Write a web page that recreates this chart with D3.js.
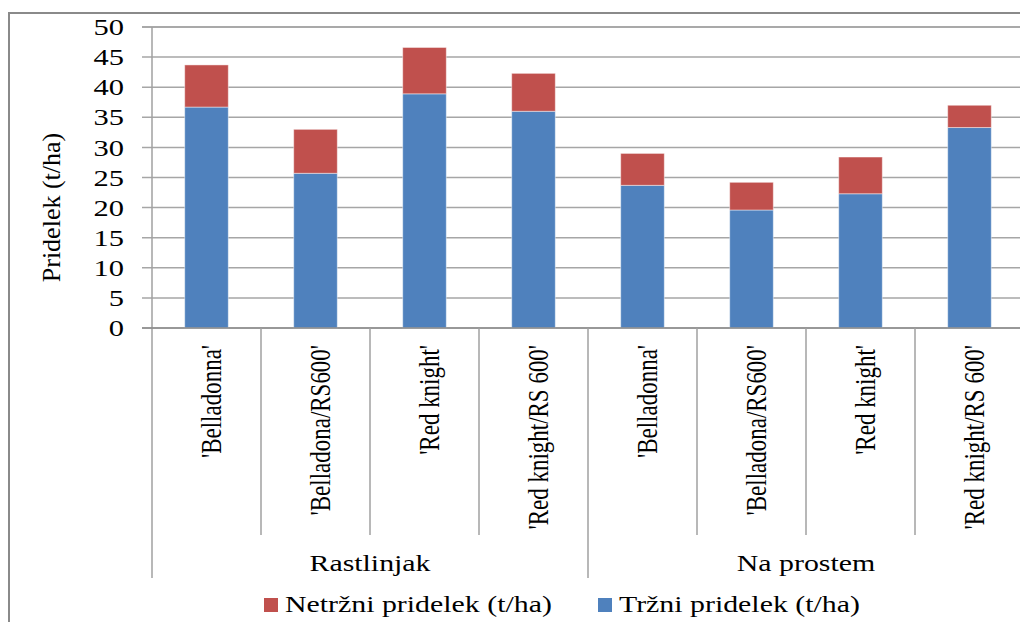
<!DOCTYPE html>
<html>
<head>
<meta charset="utf-8">
<script src="https://cdn.jsdelivr.net/npm/d3@7"></script>
<style>
  body { margin: 0; background: #fff; }
  text { font-family: "Liberation Serif", "Times New Roman", serif; fill: #000; }
</style>
</head>
<body>
<div id="chart"></div>
<script>
// Data
var groups = ["Rastlinjak", "Na prostem"];
var cultivars = ["'Belladonna'", "'Belladona/RS600'", "'Red knight'", "'Red knight/RS 600'"];
var trzni = [36.7, 25.7, 38.9, 36.0, 23.7, 19.6, 22.3, 33.3];
var netrzni = [7.0, 7.3, 7.7, 6.3, 5.3, 4.6, 6.1, 3.7];
var yTicks = [0, 5, 10, 15, 20, 25, 30, 35, 40, 45, 50];
var seriesNames = ["Netržni pridelek (t/ha)", "Tržni pridelek (t/ha)"];
var colors = { trzni: "#4f81bd", netrzni: "#c0504d" };

var svgWidth = 1020;
var svgHeight = 622;
var sx = 1.27; // the reference text is a little wider than it is tall

var plot = { left: 152, right: 1024, top: 27, bottom: 328 };

var svg = d3.select("#chart")
    .append("svg")
    .attr("width", svgWidth)
    .attr("height", svgHeight);

// outer frame (right and bottom edges fall outside the picture)
svg.append("rect")
    .attr("x", 9)
    .attr("y", 13)
    .attr("width", 1200)
    .attr("height", 800)
    .attr("fill", "none")
    .attr("stroke", "#8a8a8a")
    .attr("stroke-width", 2);

// one entry per bar
var keys = [];
groups.forEach(function(g) {
    cultivars.forEach(function(c) { keys.push(g + "|" + c); });
});
var rows = keys.map(function(k, i) {
    return { key: k, group: k.split("|")[0], name: k.split("|")[1], trzni: trzni[i], netrzni: netrzni[i] };
});

var x = d3.scaleBand()
    .domain(keys)
    .range([plot.left, plot.right])
    .paddingInner(0.6)
    .paddingOuter(0.3);

var cell = d3.scaleBand()
    .domain(keys)
    .range([plot.left, plot.right]);

var y = d3.scaleLinear()
    .domain([0, 50])
    .range([plot.bottom, plot.top]);

// gridlines
svg.append("g")
    .selectAll("line")
    .data(yTicks)
    .enter()
    .append("line")
    .attr("x1", plot.left - 10)
    .attr("x2", svgWidth)
    .attr("y1", d => y(d))
    .attr("y2", d => y(d))
    .attr("stroke", d => d === 50 ? "#8c8c8c" : "#a6a6a6")
    .attr("stroke-width", 1.5);

// y tick labels
svg.append("g")
    .selectAll("text")
    .data(yTicks)
    .enter()
    .append("text")
    .attr("transform", d => `translate(124, ${y(d)}) scale(${sx}, 1)`)
    .attr("text-anchor", "end")
    .attr("dy", "0.34em")
    .attr("font-size", "24px")
    .text(d => d);

// y axis title
svg.append("text")
    .attr("transform", `translate(60, ${(plot.top + plot.bottom) / 2 + 30}) rotate(-90)`)
    .attr("text-anchor", "middle")
    .attr("font-size", "26px")
    .text("Pridelek (t/ha)");

// stacked bars
var stack = d3.stack().keys(["trzni", "netrzni"]);
var stacked = stack(rows);

svg.append("g")
    .selectAll("g")
    .data(stacked)
    .enter()
    .append("g")
    .attr("fill", d => colors[d.key])
    .selectAll("rect")
    .data(d => d)
    .enter()
    .append("rect")
    .attr("x", d => x(d.data.key))
    .attr("width", x.bandwidth())
    .attr("y", d => y(d[1]))
    .attr("height", d => y(d[0]) - y(d[1]))
    .attr("stroke", "rgba(255,255,255,0.45)")
    .attr("stroke-width", 1);

// category axis: vertical axis line, x baseline, separators
var axisColor = "#a0a0a0";
svg.append("line")
    .attr("x1", plot.left).attr("x2", plot.left)
    .attr("y1", plot.top).attr("y2", 578)
    .attr("stroke", axisColor).attr("stroke-width", 1.5);

svg.append("line")
    .attr("x1", plot.left - 10).attr("x2", svgWidth)
    .attr("y1", plot.bottom).attr("y2", plot.bottom)
    .attr("stroke", "#8c8c8c").attr("stroke-width", 1.5);

svg.append("g")
    .selectAll("line")
    .data(keys.slice(1))
    .enter()
    .append("line")
    .attr("x1", d => cell(d)).attr("x2", d => cell(d))
    .attr("y1", plot.bottom)
    .attr("y2", d => d.indexOf(cultivars[0]) >= 0 ? 578 : 535)
    .attr("stroke", axisColor).attr("stroke-width", 1.5);

// cultivar labels
svg.append("g")
    .selectAll("text")
    .data(rows)
    .enter()
    .append("text")
    .attr("transform", d => `translate(${cell(d.key) + cell.bandwidth() / 2}, 345) scale(${sx}, 1) rotate(-90)`)
    .attr("text-anchor", "end")
    .attr("dy", "0.5em")
    .attr("font-size", "23px")
    .text(d => d.name);

// group labels
svg.append("g")
    .selectAll("text")
    .data(groups)
    .enter()
    .append("text")
    .attr("transform", function(g) {
        var ks = keys.filter(k => k.split("|")[0] === g);
        var cx = (cell(ks[0]) + cell(ks[ks.length - 1]) + cell.bandwidth()) / 2;
        return `translate(${cx}, 571) scale(${sx}, 1)`;
    })
    .attr("text-anchor", "middle")
    .attr("font-size", "23.5px")
    .text(d => d);

// legend
var legendItems = [
    { name: seriesNames[0], color: colors.netrzni, x: 264 },
    { name: seriesNames[1], color: colors.trzni, x: 598 }
];
var legend = svg.append("g")
    .selectAll("g")
    .data(legendItems)
    .enter()
    .append("g")
    .attr("transform", d => `translate(${d.x}, 598)`);

legend.append("rect")
    .attr("width", 14)
    .attr("height", 14)
    .attr("fill", d => d.color);

legend.append("text")
    .attr("transform", `translate(21, 14) scale(${sx}, 1)`)
    .attr("font-size", "23.5px")
    .text(d => d.name);
</script>
</body>
</html>
